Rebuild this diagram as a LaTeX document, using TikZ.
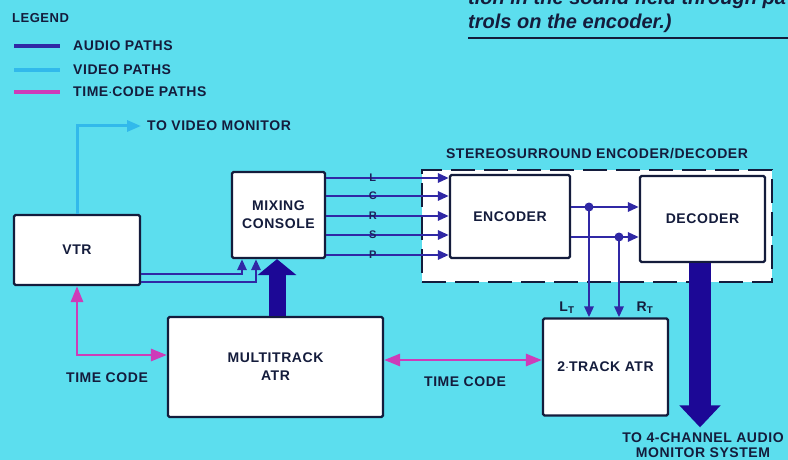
\documentclass[tikz,border=0pt]{standalone}
\usepackage{fontspec}
\setmainfont{Liberation Sans}
\newfontfamily\lblfont[LetterSpace=4]{Liberation Sans}
\usetikzlibrary{arrows.meta, positioning, calc}
\definecolor{bgcyan}{RGB}{92,222,238}
\definecolor{audioblue}{RGB}{48,40,165}
\definecolor{trunkblue}{RGB}{28,8,150}
\definecolor{videocyan}{RGB}{50,185,235}
\definecolor{tcpink}{RGB}{205,60,185}
\definecolor{inkblue}{RGB}{20,28,60}

\begin{document}
\begin{tikzpicture}[
    x=1pt, y=-1pt,
    lbl/.style={text=inkblue, inner sep=0pt, align=center,
                font=\lblfont\bfseries\fontsize{14}{15}\selectfont},
    box/.style={draw=inkblue, fill=white, line width=2.2pt, rounded corners=1.5pt,
                align=center, text=inkblue, font=\lblfont\bfseries\fontsize{14}{18}\selectfont},
    audio/.style={draw=audioblue, line width=2.8pt},
    aarr/.style={audio, -{Triangle[width=9pt,length=11pt]}},
    video/.style={draw=videocyan, line width=3pt},
    tcode/.style={draw=tcpink, line width=2.8pt},
    tarr/.style={tcode, {Triangle[width=12pt,length=16pt]}-{Triangle[width=12pt,length=16pt]}},
    chan/.style={text=inkblue!70!audioblue, inner sep=0pt, font=\lblfont\bfseries\fontsize{11}{11}\selectfont},
    surround/.style={draw=inkblue, fill=white, line width=2.4pt, dash pattern=on 24pt off 9pt}
]
  \fill[bgcyan] (0,0) rectangle (788,460);
  \useasboundingbox (0,0) rectangle (788,460);

  % Text running in from the page
  \node[anchor=base west, inner sep=0pt, text=inkblue, font=\bfseries\itshape\fontsize{20}{24}\selectfont] (txta) at (468,5) {tion in the sound field through pa};
  \node[anchor=base west, inner sep=0pt, text=inkblue, font=\bfseries\itshape\fontsize{20}{24}\selectfont] (txtb) at (468,29) {trols on the encoder.)};
  \draw[inkblue, line width=1.2pt] (txtb.south west |- 0,38) -- (788,38);

  % Legend
  \node[lbl, anchor=west, font=\lblfont\bfseries\fontsize{13}{15}\selectfont] (leg) at (12,18) {LEGEND};
  \draw[audio, line width=3.4pt] (14,46) -- (60,46);
  \draw[video, line width=3.4pt] (14,70) -- (60,70);
  \draw[tcode, line width=3.4pt] (14,92) -- (60,92);
  \node[lbl, anchor=west] (legaudio) at (73,46) {AUDIO PATHS};
  \node[lbl, anchor=west] (legvideo) at (73,70) {VIDEO PATHS};
  \node[lbl, anchor=west] (legtc) at (73,92) {TIME$\cdot$CODE PATHS};

  % Surround unit
  \node[surround, minimum width=350pt, minimum height=112pt] (ss) at (597,226) {};
  \node[lbl, above=10pt of ss] (sstitle) {STEREOSURROUND ENCODER/DECODER};

  % Boxes
  \node[box, minimum width=126pt, minimum height=70pt] (vtr) at (77,250) {VTR};
  \node[box, minimum width=93pt, minimum height=86pt] (mix) at (278.5,215) {MIXING\\CONSOLE};
  \node[box, minimum width=215pt, minimum height=100pt] (mtr) at (275.5,367) {MULTITRACK\\ATR};
  \node[box, minimum width=120pt, minimum height=83pt] (enc) at (510,216.5) {ENCODER};
  \node[box, minimum width=125pt, minimum height=86pt] (dec) at (702.5,219) {DECODER};
  \node[box, minimum width=125pt, minimum height=97pt] (atr) at (605.5,367) {2$\cdot$TRACK ATR};

  % Outside labels
  \node[lbl, anchor=west] (vmon) at (147,126) {TO VIDEO MONITOR};
  \node[lbl] (tc1) at (107,378) {TIME CODE};
  \node[lbl] (tc2) at (465,382) {TIME CODE};
  \node[lbl] (lt) at (567,308) {L\textsubscript{T}};
  \node[lbl] (rt) at (645,308) {R\textsubscript{T}};
  \node[lbl] (mon) at (703,445) {TO 4-CHANNEL AUDIO\\MONITOR SYSTEM};

  % Console to encoder
  \foreach \yy/\ch in {178/L,196/C,216/R,235/S,255/P}
    \draw[aarr] (mix.east |- 0,\yy) -- node[chan, pos=0.38] {\ch} (enc.west |- 0,\yy);

  % Encoder to decoder and 2-track
  \draw[aarr] (enc.east |- 0,207) -- (dec.west |- 0,207);
  \draw[aarr] (enc.east |- 0,237) -- (dec.west |- 0,237);
  \fill[audioblue] (589,207) coordinate (lj) circle (4.5pt);
  \fill[audioblue] (619,237) coordinate (rj) circle (4.5pt);
  \draw[aarr] (lj) -- (lj |- atr.north);
  \draw[aarr] (rj) -- (rj |- atr.north);

  % VTR audio to console
  \draw[aarr] (vtr.east |- 0,274) -| (mix.south -| 242,0);
  \draw[aarr] (vtr.east |- 0,282) -| (mix.south -| 256,0);

  % Heavy trunks
  \draw[trunkblue, line width=17pt, -{Triangle[width=38pt,length=16pt]}] (mtr.north -| 277,0) -- (mix.south -| 277,0);
  \draw[trunkblue, line width=22pt, -{Triangle[width=40pt,length=22pt]}] (dec.south -| 700,0) -- ([yshift=5pt]mon.north -| 700,0);

  % Video
  \draw[video, -{Triangle[width=11pt,length=14pt]}] (vtr.north) |- ([xshift=-6pt]vmon.west);

  % Time code
  \draw[tarr] (vtr.south) |- ([yshift=12pt]mtr.west);
  \draw[tarr] ([yshift=7pt]mtr.east) -- ([yshift=7pt]atr.west);
\end{tikzpicture}
\end{document}
